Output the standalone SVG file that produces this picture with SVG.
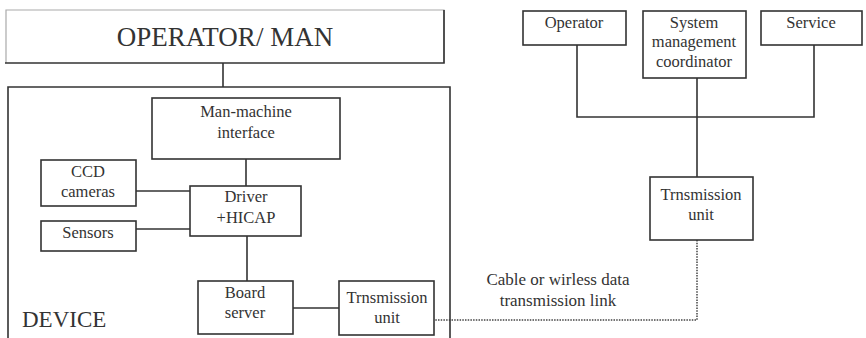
<svg xmlns="http://www.w3.org/2000/svg" width="866" height="338" viewBox="0 0 866 338" font-family="Liberation Serif, DejaVu Serif, serif">
<style>
.box{fill:none;stroke:#333;stroke-width:1.6}
.ln{fill:none;stroke:#333;stroke-width:1.6}
.dot{fill:none;stroke:#444;stroke-width:1.5;stroke-dasharray:1.5 1.2}
text{font-family:'Liberation Serif','DejaVu Serif',serif;fill:#333;text-anchor:middle;font-size:16.5px}
.big{font-size:27px}
.lbl{font-size:17px}
.dev{font-size:23px;text-anchor:start}
</style>
<rect width="866" height="338" fill="#fff"/>
<g id="connectors">
<line class="ln" x1="223" y1="63" x2="223" y2="87"/>
<line class="ln" x1="246" y1="159" x2="246" y2="186"/>
<line class="ln" x1="136" y1="191" x2="190" y2="191"/>
<line class="ln" x1="136" y1="229" x2="190" y2="229"/>
<line class="ln" x1="247" y1="236" x2="247" y2="281"/>
<line class="ln" x1="293" y1="308" x2="339" y2="308"/>
<polyline class="ln" points="577,45 577,117 814,117 814,45"/>
<line class="ln" x1="697" y1="78" x2="697" y2="177"/>
<polyline class="dot" points="697,240 697,320 435,320"/>
<text class="lbl" x="558" y="285">Cable or wirless data</text>
<text class="lbl" x="558" y="306">transmission link</text>
</g>
<g id="operator-man">
<path d="M444,63 V10 H6 V63" fill="none" stroke="#aaa" stroke-width="1.2"/>
<path d="M444,10 V63 H5" fill="none" stroke="#333" stroke-width="1.6"/>
<text class="big" x="225" y="46">OPERATOR/ MAN</text>
</g>
<g id="device">
<path class="box" d="M8,340 V87 H450 V340"/>
<text class="dev" x="22" y="327">DEVICE</text>
</g>
<g id="mmi">
<rect class="box" x="152" y="98" width="188" height="61"/>
<text x="246" y="117">Man-machine</text>
<text x="246" y="138">interface</text>
</g>
<g id="ccd">
<rect class="box" x="41" y="160" width="95" height="46"/>
<text x="88" y="177">CCD</text>
<text x="88" y="197">cameras</text>
</g>
<g id="driver">
<rect class="box" x="190" y="186" width="111" height="50"/>
<text x="246" y="202">Driver</text>
<text x="246" y="223">+HICAP</text>
</g>
<g id="sensors">
<rect class="box" x="41" y="221" width="95" height="30"/>
<text x="88" y="238">Sensors</text>
</g>
<g id="board-server">
<rect class="box" x="198" y="281" width="95" height="53"/>
<text x="245" y="298">Board</text>
<text x="245" y="318">server</text>
</g>
<g id="trans-left">
<rect class="box" x="339" y="281" width="95" height="54"/>
<text x="387" y="303">Trnsmission</text>
<text x="387" y="323">unit</text>
</g>
<g id="operator">
<rect class="box" x="523" y="11" width="103" height="34"/>
<text x="574" y="28">Operator</text>
</g>
<g id="smc">
<rect class="box" x="643" y="11" width="103" height="67"/>
<text x="694" y="28">System</text>
<text x="694" y="47">management</text>
<text x="694" y="67">coordinator</text>
</g>
<g id="service">
<rect class="box" x="761" y="11" width="101" height="34"/>
<text x="811" y="28">Service</text>
</g>
<g id="trans-right">
<rect class="box" x="650" y="177" width="103" height="63"/>
<text x="701" y="200">Trnsmission</text>
<text x="701" y="220">unit</text>
</g>
</svg>
